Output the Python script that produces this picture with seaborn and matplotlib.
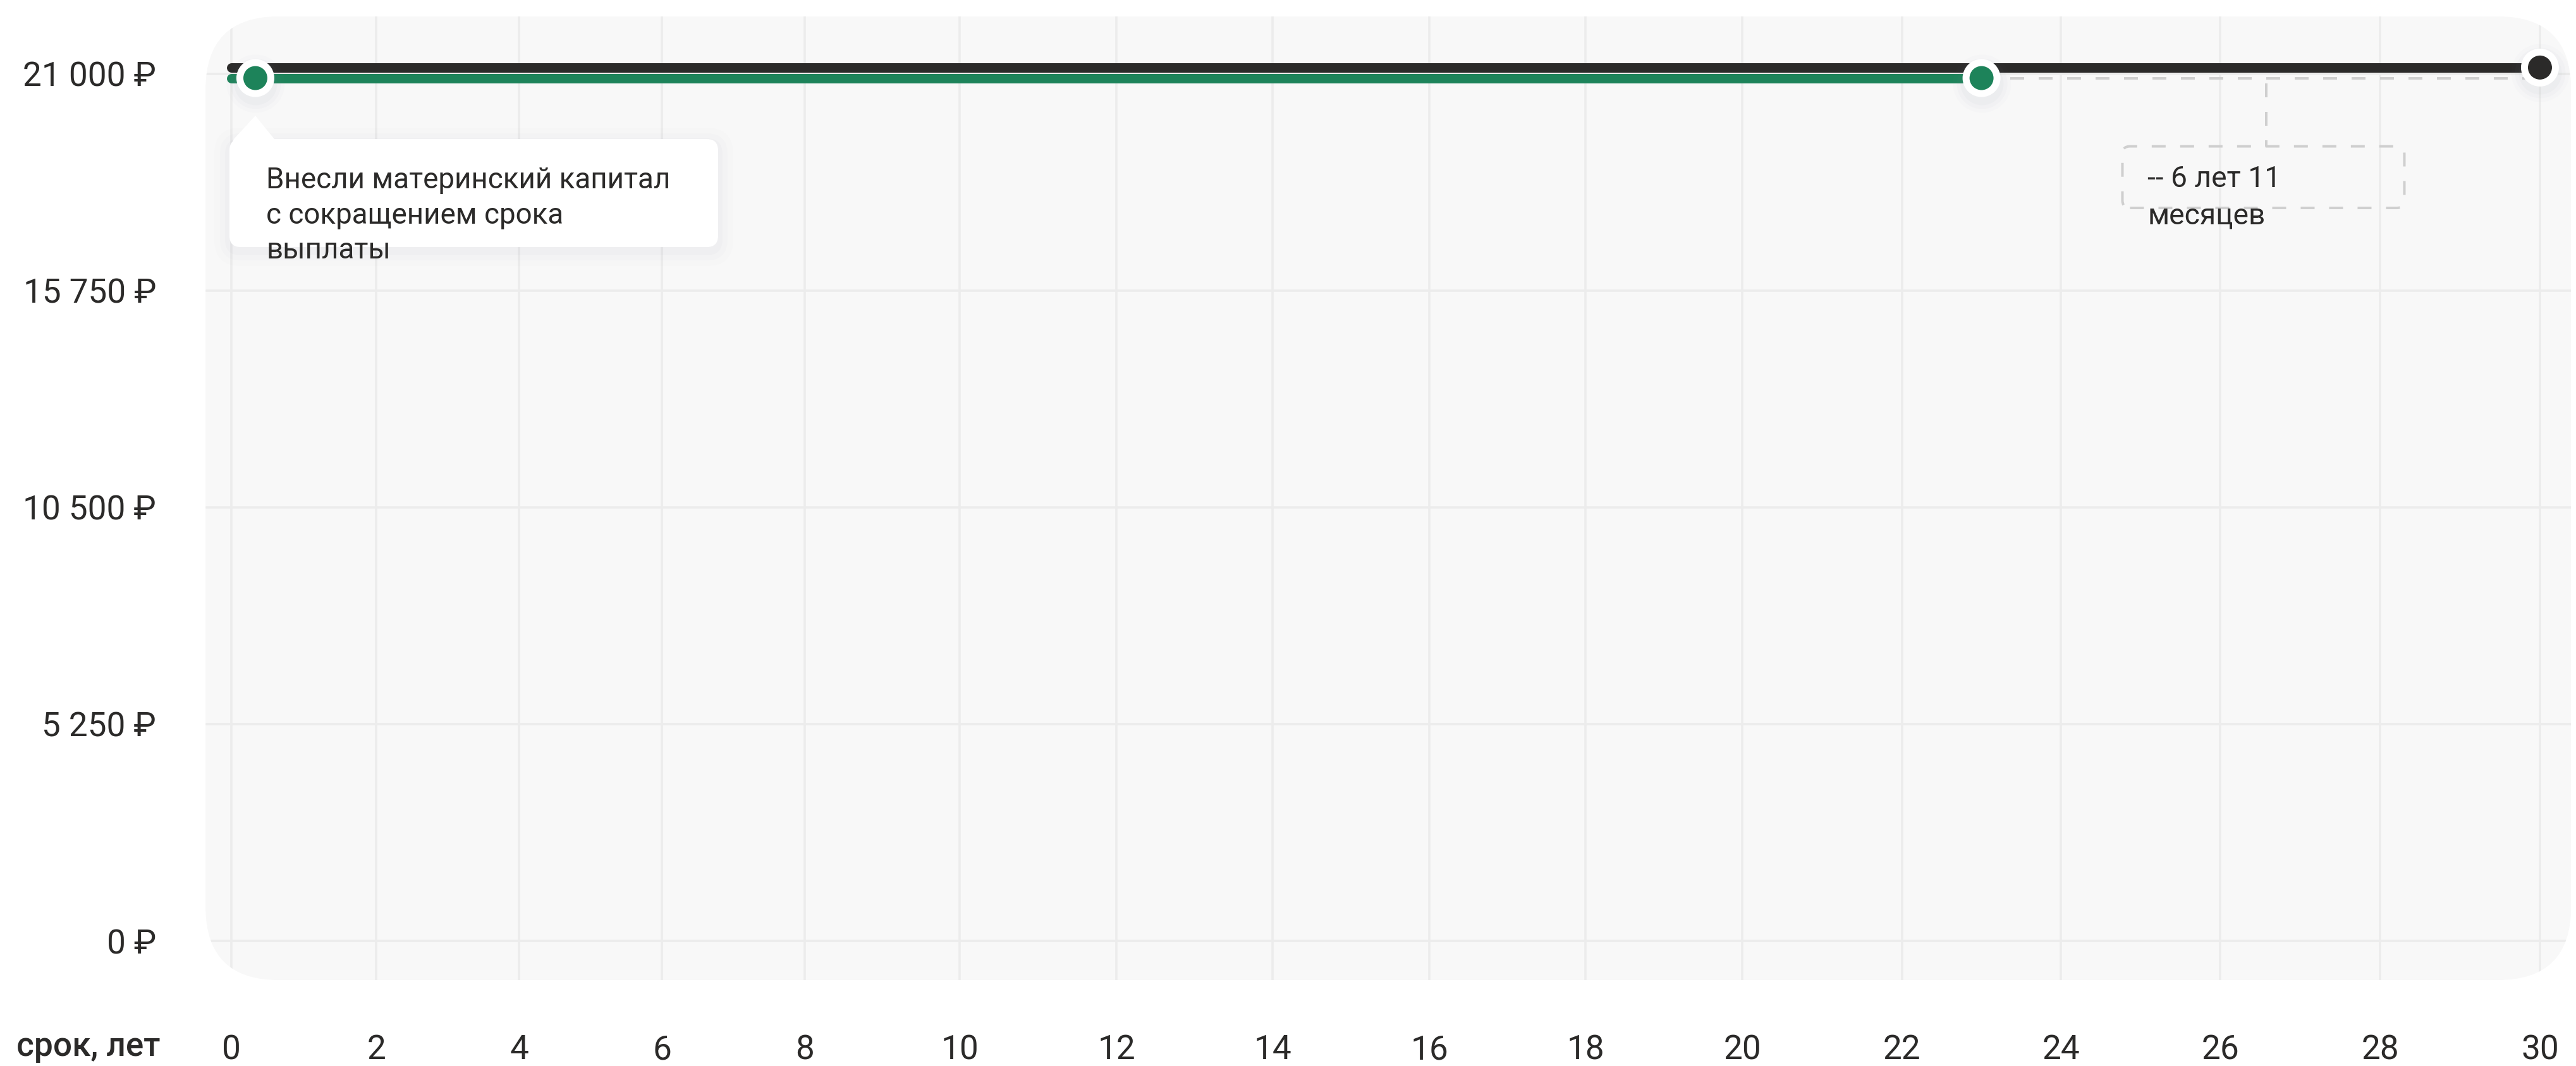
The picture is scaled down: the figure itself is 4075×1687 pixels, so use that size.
import numpy as np
import pandas as pd
import seaborn as sns
import matplotlib.pyplot as plt
from matplotlib.patches import FancyBboxPatch, Polygon
from matplotlib.ticker import NullLocator
from matplotlib.transforms import Affine2D, ScaledTranslation

# Monthly payment over the 30-year term, rub
base_years = [0, 30]
base_payment = [21150, 21150]
reduced_years = [0, 23.0]
reduced_payment = [20895, 20895]
capital_year = [0.33]

y_ticks = [0, 5250, 10500, 15750, 21000]
y_tick_labels = ['0 ₽', '5 250 ₽', '10 500 ₽', '15 750 ₽', '21 000 ₽']
x_ticks = list(range(0, 31, 2))
# the year axis of the source is not evenly spaced: where each tick sits (0..1)
x_tick_stops = [0, .0627, .1246, .1865, .2484, .3155, .3834, .4510,
                .5189, .5866, .6545, .7237, .7925, .8615, .9308, 1]

capital_note = 'Внесли материнский капитал\nс сокращением срока\nвыплаты'
saving_note = '-- 6 лет 11\nмесяцев'
x_title = 'срок, лет'

DPI = 250
INK = '#2b2a29'
GREEN = '#1d835a'
BG = '#f8f8f8'
GRID = '#ececec'
DASH = '#cfcfcf'


def px(v):
    # pixels of the output image -> points
    return v * 72 / DPI


sns.set_theme(style='white')
plt.rcParams['font.family'] = ['Roboto', 'DejaVu Sans']

fig = plt.figure(figsize=(4075 / DPI, 1687 / DPI), dpi=DPI)
ax = fig.add_axes([0.0798, 0.0806, 0.9183, 0.9040])

# uneven year axis
xs = np.array([-2] + x_ticks + [32], dtype=float)
ps = np.array([-x_tick_stops[1]] + x_tick_stops + [2 - x_tick_stops[-2]])
ax.set_xscale('function', functions=(lambda t: np.interp(t, xs, ps),
                                     lambda p: np.interp(p, ps, xs)))

# rounded grey panel
bg = FancyBboxPatch((0, 0), 1, 1, boxstyle='round,pad=0,rounding_size=0.031',
                    mutation_aspect=3742 / 1525, transform=ax.transAxes,
                    fc=BG, ec='none', zorder=0.1)
ax.add_patch(bg)
ax.patch.set_visible(False)

# payment lines
sns.lineplot(x=base_years, y=base_payment, color=INK, lw=px(15),
             solid_capstyle='round', ax=ax, zorder=3)
sns.lineplot(x=reduced_years, y=reduced_payment, color=GREEN, lw=px(15),
             solid_capstyle='round', ax=ax, zorder=3.2)
ax.plot([reduced_years[-1], base_years[-1]], [reduced_payment[-1]] * 2,
        color=DASH, lw=px(4), dashes=(5.5, 5.75), zorder=2.5)

# dots
dots = pd.DataFrame({
    'year': capital_year + reduced_years[-1:] + base_years[-1:],
    'payment': [reduced_payment[0], reduced_payment[-1], base_payment[-1]],
    'series': ['reduced', 'reduced', 'base'],
})
for size, alpha in [(92, 0.02), (80, 0.03), (68, 0.04)]:
    sns.scatterplot(data=dots, x='year', y='payment', s=px(size) ** 2,
                    color='#8a90a4', alpha=alpha, linewidth=0, ax=ax, zorder=5,
                    transform=ax.transData + Affine2D().translate(0, -8), legend=False)
sns.scatterplot(data=dots, x='year', y='payment', hue='series',
                palette={'reduced': GREEN, 'base': INK}, s=px(49) ** 2,
                edgecolor='white', linewidth=px(11), ax=ax, zorder=6, legend=False)


def pinned(x, y):
    # offsets in output pixels measured from a data point
    return Affine2D() + ScaledTranslation(x, y, ax.transData)


# tooltip under the first green dot
tip = pinned(capital_year[0], reduced_payment[0])
for grow, alpha in [(24, 0.015), (15, 0.025), (7, 0.035)]:
    ax.add_patch(FancyBboxPatch((-41 - grow, -267.5 - grow - 6), 773 + 2 * grow, 171 + 2 * grow,
                                boxstyle=f'round,pad=0,rounding_size={18 + grow}', transform=tip,
                                fc='#8890a8', ec='none', alpha=alpha, zorder=6.5))
ax.add_patch(FancyBboxPatch((-41, -267.5), 773, 171, boxstyle='round,pad=0,rounding_size=18',
                            transform=tip, fc='white', ec='none', zorder=7))
ax.add_patch(Polygon([(-41, -125), (-41, -112), (-34, -96.5), (0, -59.5), (30, -96.5), (30, -125)],
                     closed=True, transform=tip, fc='white', ec='none', zorder=7))
ax.text(17.5, -139.5, capital_note, transform=tip, fontsize=13.2, color=INK,
        ha='left', va='top', linespacing=1.33, zorder=8)

# dashed box with the term reduction
mid = (reduced_years[-1] + base_years[-1]) / 2
gap = pinned(mid, reduced_payment[-1])
ax.plot([10, 10], [-8, -108], transform=gap, color=DASH, lw=px(4), dashes=(5.5, 5.75), zorder=2.5)
ax.add_patch(FancyBboxPatch((-218, -205.5), 446, 97.5, boxstyle='round,pad=0,rounding_size=12',
                            transform=gap, fill=False, ec=DASH, lw=px(4), ls=(0, (5.5, 5.75)),
                            zorder=2.5))
ax.text(-178, -137.5, saving_note, transform=gap, fontsize=13.3, color=INK,
        ha='left', va='top', linespacing=1.4, zorder=8)

# axes
ax.set_xlim(-0.358, 30.39)
ax.set_ylim(-949, 22388)
ax.set_xticks(x_ticks, [str(v) for v in x_ticks])
ax.set_yticks(y_ticks, y_tick_labels)
ax.xaxis.set_minor_locator(NullLocator())
ax.set_xlabel('')
ax.set_ylabel('')
ax.tick_params(length=0, labelsize=15.3, labelcolor=INK)
ax.tick_params(axis='x', pad=px(85))
ax.tick_params(axis='y', pad=px(78))
ax.grid(True, color=GRID, lw=px(3.5))
ax.set_axisbelow(True)
for s in ax.spines.values():
    s.set_visible(False)
for gl in ax.get_xgridlines() + ax.get_ygridlines():
    gl.set_clip_path(bg)

fig.text(26 / 4075, 1 - 1656 / 1687, x_title, fontsize=15.3, color=INK,
         ha='left', va='center', weight='medium')

fig.savefig('out.png', dpi=DPI, facecolor='white')
